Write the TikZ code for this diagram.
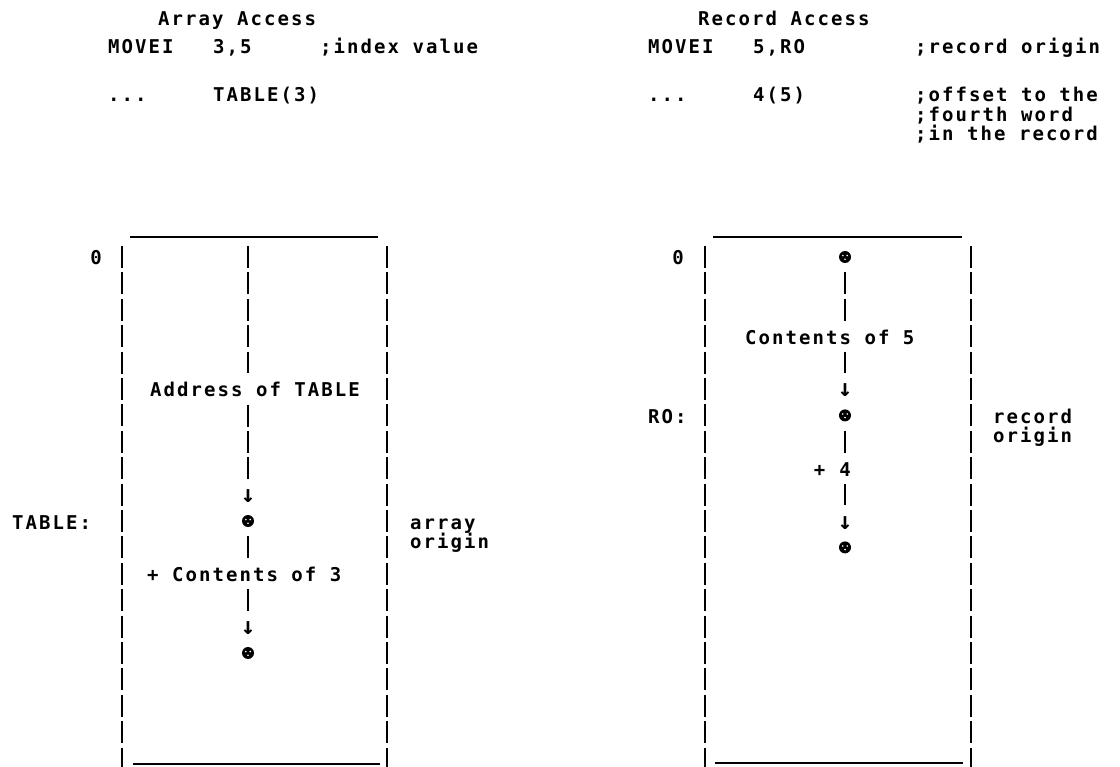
\documentclass[tikz,border=0pt]{standalone}
\usepackage{fontspec}
\newfontfamily\typefont{DejaVu Sans Mono}[LetterSpace=10.8]
\usetikzlibrary{positioning}

% typewriter lettering, one row of the layout is 26.4 units
\newcommand\tyfont{\typefont\bfseries\fontsize{19pt}{23pt}\selectfont}
\newcommand\rw[1]{257+26.4*#1}

\tikzset{
  txt/.style={font=\tyfont, inner sep=0pt, text height=16pt, text depth=0pt},
  wall/.style={line width=2.8pt, dash pattern=on 22pt off 4.4pt},
  bar/.style={line width=2.6pt, dash pattern=on 22pt off 4.4pt,
              shorten <=7.4pt, shorten >=7.4pt},
  rule/.style={line width=2.6pt},
  down/.style={txt, font=\typefont\bfseries\fontsize{24pt}{26pt}\selectfont},
  blob/.style={circle, fill, inner sep=0pt, minimum size=12pt, outer sep=2pt,
    path picture={\fill[white] (path picture bounding box.center)
      ++(-2.2pt,1.4pt) circle (0.9pt) ++(4.4pt,0pt) circle (0.9pt)
      ++(-2.2pt,-3.6pt) circle (0.9pt);}},
}

\begin{document}
\begin{tikzpicture}[x=1pt,y=-1pt]
  \useasboundingbox (0,0) rectangle (1120,767);

  % --- array access ---
  \node[txt,anchor=west] at (158,18) {Array Access};
  \node[txt,anchor=west] at (108,46) {MOVEI};
  \node[txt,anchor=west] at (213,46) {3,5};
  \node[txt,anchor=west] at (320,46) {;index value};
  \node[txt,anchor=west] at (108,94) {...};
  \node[txt,anchor=west] at (213,94) {TABLE(3)};

  \draw[rule] (130,237) -- (378,237);
  \draw[rule] (133,764) -- (380,764);
  \draw[wall] (122,246) -- (122,780);
  \draw[wall] (387,246) -- (387,780);

  \node[txt] (zl) at (96,{\rw{0}}) {0};
  \node[txt,anchor=west] (tlab) at (12,{\rw{10}}) {TABLE:};
  \node[txt,anchor=west] (alab) at (410,{\rw{10}}) {array};
  \node[txt,below right=3pt and 0pt of alab.south west] {origin};

  \coordinate (atop) at (248,246);
  \node[txt] (addr) at (255,{\rw{5}}) {Address of TABLE};
  \node[down] (adown) at (248,{\rw{9}}) {↓};
  \node[blob] (tdot) at (248,{\rw{10}}) {};
  \node[txt,anchor=west] (cont3) at (147,{\rw{12}}) {+ Contents of 3};
  \node[down] (cdown) at (248,{\rw{14}}) {↓};
  \node[blob] (edot) at (248,{\rw{15}}) {};

  \draw[bar,shorten <=0pt] (atop) -- (atop |- addr.north);
  \draw[bar] (atop |- addr.south) -- (adown);
  \draw[bar] (tdot) -- (tdot |- cont3.north);
  \draw[bar] (tdot |- cont3.south) -- (cdown);

  % --- record access ---
  \node[txt,anchor=west] at (698,18) {Record Access};
  \node[txt,anchor=west] at (648,46) {MOVEI};
  \node[txt,anchor=west] at (753,46) {5,RO};
  \node[txt,anchor=west] at (915,46) {;record origin};
  \node[txt,anchor=west] at (648,94) {...};
  \node[txt,anchor=west] at (753,94) {4(5)};
  \node[txt,anchor=west] (c1) at (915,94) {;offset to the};
  \node[txt,below right=3pt and 0pt of c1.south west] (c2) {;fourth word};
  \node[txt,below right=3pt and 0pt of c2.south west] {;in the record};

  \draw[rule] (713,237) -- (962,237);
  \draw[rule] (715,763) -- (963,763);
  \draw[wall] (705,246) -- (705,780);
  \draw[wall] (971,246) -- (971,780);

  \node[txt] (zr) at (678,{\rw{0}}) {0};
  \node[txt,anchor=west] (rolab) at (648,{\rw{6}}) {RO:};
  \node[txt,anchor=west] (rlab) at (993,{\rw{6}}) {record};
  \node[txt,below right=3pt and 0pt of rlab.south west] {origin};

  \node[blob] (sdot) at (845,{\rw{0}}) {};
  \node[txt,anchor=west] (cont5) at (745,{\rw{3}}) {Contents of 5};
  \node[down] (sdown) at (845,{\rw{5}}) {↓};
  \node[blob] (rdot) at (845,{\rw{6}}) {};
  \node[txt] (four) at (845,{\rw{8}}) {4};
  \node[txt,left=13.5pt of four] (plus) {+};
  \node[down] (fdown) at (845,{\rw{10}}) {↓};
  \node[blob] (fdot) at (845,{\rw{11}}) {};

  \draw[bar] (sdot) -- (sdot |- cont5.north);
  \draw[bar] (sdot |- cont5.south) -- (sdown);
  \draw[bar] (rdot) -- (four);
  \draw[bar] (four) -- (fdown);
\end{tikzpicture}
\end{document}
